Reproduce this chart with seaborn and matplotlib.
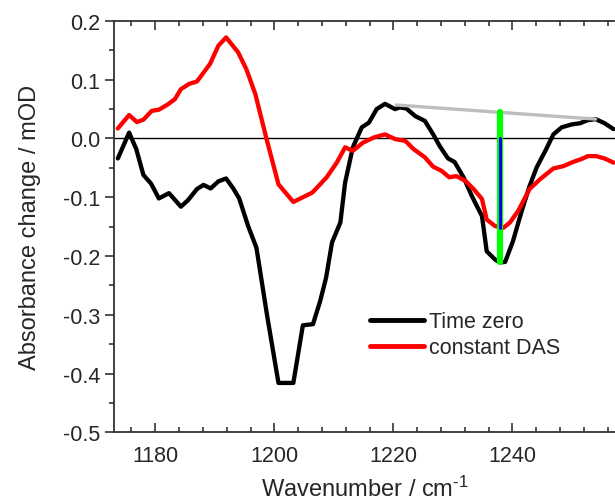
import matplotlib
matplotlib.use('Agg')
import matplotlib.pyplot as plt
from matplotlib.ticker import MultipleLocator
import seaborn as sns
import pandas as pd

# Time zero spectrum
wn_zero = [1173.7, 1175.6, 1176.8, 1178.0, 1179.3, 1180.6, 1182.3, 1184.3, 1185.5, 1187.0,
           1188.1, 1189.3, 1190.6, 1191.9, 1193.1, 1194.1, 1195.6, 1197.0, 1198.8, 1200.7,
           1203.2, 1204.8, 1206.5, 1207.7, 1208.7, 1209.7, 1211.1, 1211.9, 1213.2, 1214.7,
           1215.9, 1217.2, 1218.6, 1220.3, 1221.1, 1222.2, 1223.7, 1225.3, 1226.7, 1227.8,
           1229.2, 1230.3, 1231.8, 1233.2, 1234.9, 1235.7, 1237.1, 1237.9, 1238.8, 1240.1,
           1241.5, 1242.9, 1244.1, 1245.7, 1246.9, 1248.3, 1250.0, 1251.4, 1252.6, 1254.0,
           1255.5, 1257.0]
od_zero = [-0.034, 0.010, -0.018, -0.062, -0.077, -0.102, -0.093, -0.116, -0.105, -0.086,
           -0.079, -0.085, -0.073, -0.068, -0.085, -0.102, -0.149, -0.186, -0.302, -0.416,
           -0.416, -0.318, -0.316, -0.277, -0.237, -0.177, -0.143, -0.075, -0.015, 0.019,
           0.027, 0.050, 0.059, 0.050, 0.053, 0.051, 0.038, 0.030, 0.007, -0.013,
           -0.034, -0.040, -0.066, -0.098, -0.132, -0.192, -0.206, -0.211, -0.210, -0.175,
           -0.126, -0.081, -0.049, -0.018, 0.007, 0.019, 0.024, 0.026, 0.031, 0.033,
           0.026, 0.016]

# constant decay associated spectrum
wn_das = [1173.7, 1175.6, 1176.9, 1178.0, 1179.4, 1180.6, 1182.1, 1183.3, 1184.3, 1185.7,
          1187.0, 1189.2, 1190.6, 1191.9, 1193.9, 1195.3, 1196.8, 1198.7, 1200.7, 1203.2,
          1206.4, 1208.8, 1210.5, 1211.9, 1213.2, 1214.9, 1216.8, 1218.6, 1220.3, 1222.0,
          1223.4, 1225.3, 1226.7, 1228.1, 1229.4, 1230.6, 1232.1, 1233.5, 1234.9, 1235.7,
          1237.1, 1238.5, 1239.6, 1241.0, 1242.9, 1244.7, 1246.9, 1248.6, 1250.2, 1251.6,
          1252.7, 1254.1, 1255.5, 1257.0]
od_das = [0.017, 0.040, 0.028, 0.032, 0.047, 0.049, 0.058, 0.067, 0.084, 0.093,
          0.097, 0.127, 0.158, 0.172, 0.147, 0.118, 0.076, -0.001, -0.078, -0.108,
          -0.092, -0.066, -0.041, -0.015, -0.021, -0.007, 0.002, 0.007, -0.001, -0.004,
          -0.018, -0.032, -0.048, -0.055, -0.066, -0.064, -0.072, -0.086, -0.103, -0.138,
          -0.149, -0.152, -0.143, -0.123, -0.086, -0.069, -0.051, -0.047, -0.040, -0.035,
          -0.030, -0.030, -0.034, -0.041]

# baseline and band-height markers
baseline_wn = [1220.5, 1254.0]
baseline_od = [0.057, 0.033]
marker_wn = 1237.9
green_od = [0.045, -0.211]
blue_od = [0.0, -0.152]

sns.set_style('ticks')
plt.rcParams['font.family'] = ['Liberation Sans', 'DejaVu Sans']
plt.rcParams['axes.unicode_minus'] = False
plt.rcParams['mathtext.fontset'] = 'custom'
plt.rcParams['mathtext.rm'] = 'Liberation Sans'
plt.rcParams['mathtext.it'] = 'Liberation Sans'

fig = plt.figure(figsize=(6.15, 5.02), dpi=100)
ax = fig.add_axes([0.18537, 0.1369, 0.8163, 0.8193])

df_zero = pd.DataFrame({'wn': wn_zero, 'od': od_zero, 'label': 'Time zero'})
df_das = pd.DataFrame({'wn': wn_das, 'od': od_das, 'label': 'constant DAS'})
df = pd.concat([df_zero, df_das], ignore_index=True)

ax.axhline(0, color='black', lw=1.0, zorder=1)
sns.lineplot(data=df, x='wn', y='od', hue='label', palette=['#000000', '#ff0000'],
             sort=False, estimator=None, lw=3.1, ax=ax, zorder=2)

ax.plot(baseline_wn, baseline_od, color='#bdbdbd', lw=2.4, zorder=3)
ax.plot([marker_wn, marker_wn], green_od, color='#00ff00', lw=4.5,
        solid_capstyle='round', zorder=4)
ax.plot([marker_wn, marker_wn], blue_od, color='#0000ff', lw=2.2, zorder=5)

ax.set_xlim(1173.06, 1257.43)
ax.set_ylim(-0.5, 0.2)
ax.xaxis.set_major_locator(MultipleLocator(20))
ax.xaxis.set_minor_locator(MultipleLocator(4))
ax.yaxis.set_major_locator(MultipleLocator(0.1))
ax.yaxis.set_minor_locator(MultipleLocator(0.05))
ax.yaxis.set_major_formatter(plt.FormatStrFormatter('%.1f'))

for s in ax.spines.values():
    s.set_color('#333333')
    s.set_linewidth(1.3)
    s.set_visible(True)

ax.tick_params(axis='x', which='both', direction='in', top=True, bottom=True,
               labelsize=15.5, pad=9, color='#333333')
ax.tick_params(axis='y', which='both', direction='out', left=True, labelsize=15.5,
               pad=3.5, color='#333333')
ax.tick_params(which='major', length=6.5, width=1.2)
ax.tick_params(which='minor', length=3.3, width=1.2)

ax.set_xlabel(r'Wavenumber / cm$^{\text{-1}}$', fontsize=17, labelpad=7)
ax.set_ylabel('Absorbance change / mOD', fontsize=17, labelpad=16)

leg = ax.legend(loc='center left', bbox_to_anchor=(0.51, 0.237), frameon=False,
                fontsize=15.5, handlelength=2.5, handletextpad=0.25,
                labelspacing=0.25, borderpad=0, borderaxespad=0)
for h in leg.get_lines():
    h.set_linewidth(3.5)

fig.savefig('out.png', dpi=100)
